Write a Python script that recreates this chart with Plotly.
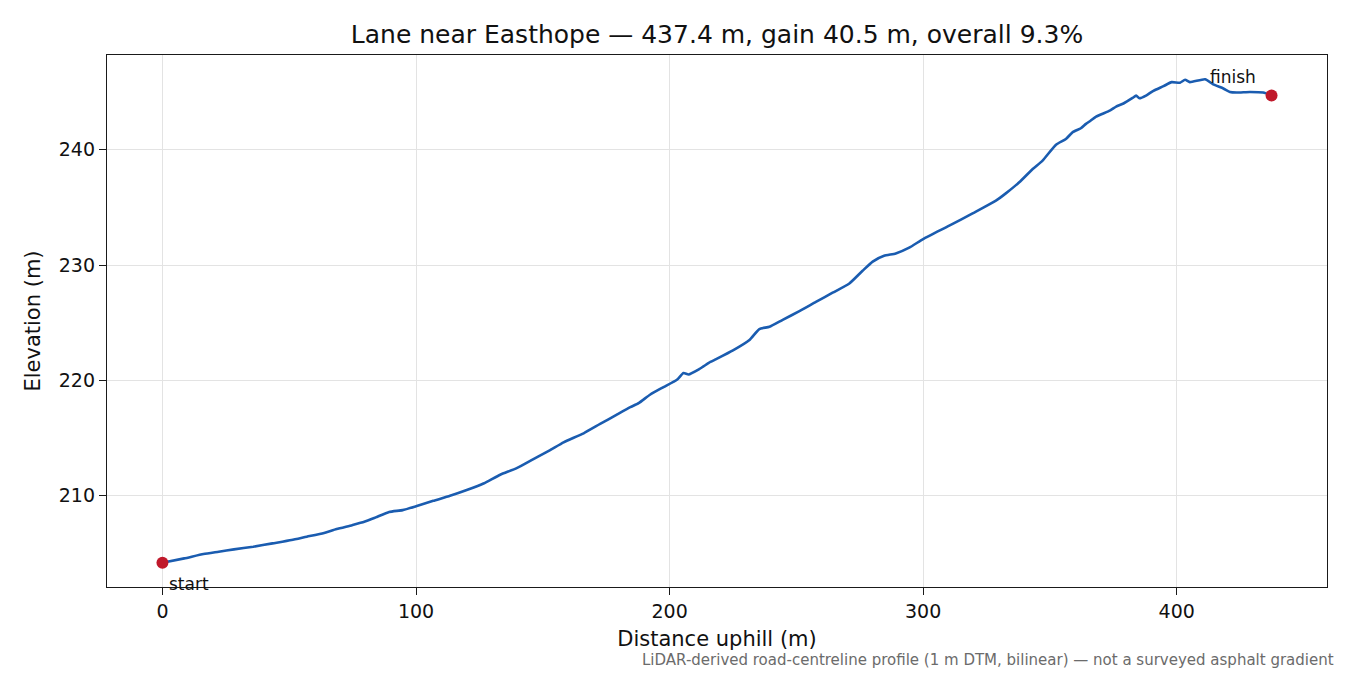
import plotly.graph_objects as go

distance_m = [0, 8.6, 16.2, 22.2, 28.2, 35.8, 43.4, 50.9, 56.9, 63.0, 68.7, 74.8, 79.6, 84.1,
              89.4, 94.7, 100, 106.8, 113.4, 120, 126.6, 133.2, 139.7, 146.3, 152.9, 158.2,
              166.1, 172.6, 179.2, 184.5, 187.8, 192.4, 197.6, 202.9, 205.5, 207.5, 211.8,
              216.1, 218.4, 225, 231.5, 235.4, 239.4, 244.6, 251.2, 257.7, 264.3, 270.9, 276.1,
              280.1, 284.6, 289.2, 294.5, 300, 310.3, 319.5, 328.7, 332.6, 337.9, 343.2, 347.1,
              352.4, 356.3, 358.9, 362.2, 364.2, 366.0, 368.2, 373.8, 376.1, 379, 382.6, 384.0,
              385.3, 387.9, 390.8, 394.8, 398, 401.3, 403.3, 405.2, 411.2, 414.4, 418.4, 421,
              423.6, 428.9, 434.1, 437.4]
elevation_m = [204.2, 204.58, 204.96, 205.16, 205.36, 205.59, 205.88, 206.17, 206.46, 206.74,
               207.12, 207.46, 207.75, 208.13, 208.6, 208.76, 209.1, 209.57, 210.0, 210.5,
               211.07, 211.83, 212.4, 213.19, 213.97, 214.64, 215.42, 216.23, 217.04, 217.68,
               218.03, 218.78, 219.42, 220.06, 220.64, 220.52, 221.0, 221.6, 221.85, 222.6,
               223.5, 224.45, 224.65, 225.25, 226.0, 226.8, 227.6, 228.4, 229.5, 230.3, 230.8,
               231.0, 231.5, 232.25, 233.41, 234.48, 235.58, 236.21, 237.17, 238.32, 239.05,
               240.43, 240.92, 241.5, 241.85, 242.23, 242.5, 242.86, 243.4, 243.73, 244.0,
               244.48, 244.68, 244.45, 244.68, 245.1, 245.5, 245.85, 245.8, 246.05, 245.85,
               246.1, 245.65, 245.3, 245.0, 244.95, 245.0, 244.95, 244.7]
x_ticks = [0, 100, 200, 300, 400]
y_ticks = [210, 220, 230, 240]
endpoint_labels = ["start", "finish"]

title_text = "Lane near Easthope — 437.4 m, gain 40.5 m, overall 9.3%"
footnote = "LiDAR-derived road-centreline profile (1 m DTM, bilinear) — not a surveyed asphalt gradient"

FONT = "DejaVu Sans"
LINE_COLOR = "#1a5cb0"
DOT_COLOR = "#c0192b"

fig = go.Figure()
fig.add_trace(go.Scatter(x=distance_m, y=elevation_m, mode="lines",
                         line=dict(color=LINE_COLOR, width=2.6, shape="spline", smoothing=0.5),
                         hoverinfo="skip", showlegend=False))
fig.add_trace(go.Scatter(x=[distance_m[0], distance_m[-1]], y=[elevation_m[0], elevation_m[-1]],
                         mode="markers", marker=dict(color=DOT_COLOR, size=12),
                         showlegend=False, cliponaxis=False))

fig.add_annotation(x=distance_m[0], y=elevation_m[0], text=endpoint_labels[0], showarrow=False,
                   xanchor="left", yanchor="top", xshift=5, yshift=-9,
                   font=dict(family=FONT, size=17, color="#111111"))
fig.add_annotation(x=distance_m[-1], y=elevation_m[-1], text=endpoint_labels[1], showarrow=False,
                   xanchor="left", yanchor="middle", xshift=-64, yshift=18,
                   font=dict(family=FONT, size=17, color="#111111"))
fig.add_annotation(xref="paper", yref="paper", x=1.0074, y=-0.137, text=footnote,
                   showarrow=False, xanchor="right", yanchor="middle",
                   font=dict(family=FONT, size=15, color="#6b6b6b"))

axis_common = dict(showline=True, linecolor="#1a1a1a", linewidth=1.3, mirror=True,
                   ticks="outside", ticklen=7, tickwidth=1.3, tickcolor="#1a1a1a",
                   showgrid=True, gridcolor="#e3e3e3", gridwidth=1, zeroline=False,
                   tickfont=dict(family=FONT, size=19, color="#111111"))

fig.update_xaxes(range=[-21.87, 459.27], tickvals=x_ticks,
                 title=dict(text="Distance uphill (m)", standoff=10,
                            font=dict(family=FONT, size=21, color="#111111")),
                 **axis_common)
fig.update_yaxes(range=[202.1, 248.2], tickvals=y_ticks,
                 title=dict(text="Elevation (m)", standoff=12,
                            font=dict(family=FONT, size=21, color="#111111")),
                 **axis_common)

fig.update_layout(
    width=1350, height=675,
    margin=dict(l=107, r=23, t=55, b=88),
    paper_bgcolor="white", plot_bgcolor="white",
    title=dict(text=title_text, x=0.5, xref="paper", y=1 - 34 / 675, yref="container",
               xanchor="center", yanchor="middle",
               font=dict(family=FONT, size=25, color="#111111")),
    font=dict(family=FONT),
)

fig.write_html("out.html", config={"displayModeBar": False},
               post_script="document.body.style.margin='0';document.body.style.padding='0';")
